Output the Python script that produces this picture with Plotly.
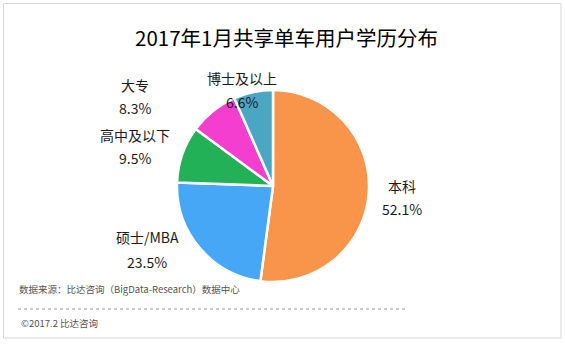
import plotly.graph_objects as go

# Education breakdown of bike-sharing users, January 2017
categories = ["本科", "硕士/MBA", "高中及以下", "大专", "博士及以上"]
shares = [52.1, 23.5, 9.5, 8.3, 6.6]
colors = ["#F8954B", "#46A7F6", "#22B157", "#F43ECF", "#4AA7C4"]

W, H = 565, 345
FONT = "Noto Sans CJK SC"

# pie placement in pixels (center and radius)
cx, cy, r = 273, 186, 96

fig = go.Figure(go.Pie(
    labels=categories,
    values=shares,
    sort=False,
    direction="clockwise",
    rotation=0,
    marker=dict(colors=colors, line=dict(color="white", width=2.5)),
    textinfo="none",
    hoverinfo="label+percent",
    showlegend=False,
    domain=dict(x=[(cx - r) / W, (cx + r) / W],
                y=[(H - cy - r) / H, (H - cy + r) / H]),
))

# label positions in pixels: (x, name line y, value line y)
label_pos = {
    "本科": (402, 186, 209),
    "硕士/MBA": (147, 237, 262),
    "高中及以下": (135, 135, 158),
    "大专": (135, 85, 108),
    "博士及以上": (242, 78, 102),
}

annotations = []
for name, val in zip(categories, shares):
    x, y1, y2 = label_pos[name]
    for txt, y in ((name, y1), (f"{val}%", y2)):
        annotations.append(dict(
            x=x / W, y=1 - y / H, xref="paper", yref="paper",
            text=txt, showarrow=False,
            font=dict(family=FONT, size=14, color="#1a1a1a"),
            xanchor="center", yanchor="middle",
        ))

annotations += [
    dict(x=286 / W, y=1 - 37 / H, xref="paper", yref="paper",
         text="2017年1月共享单车用户学历分布", showarrow=False,
         font=dict(family=FONT, size=20.5, color="#000000"),
         xanchor="center", yanchor="middle"),
    dict(x=17 / W, y=1 - 289 / H, xref="paper", yref="paper",
         text="数据来源：比达咨询（BigData-Research）数据中心", showarrow=False,
         font=dict(family=FONT, size=9.5, color="#555555"),
         xanchor="left", yanchor="middle"),
    dict(x=19 / W, y=1 - 323 / H, xref="paper", yref="paper",
         text="©2017.2 比达咨询", showarrow=False,
         font=dict(family=FONT, size=9.5, color="#555555"),
         xanchor="left", yanchor="middle"),
]

shapes = [
    dict(type="rect", xref="paper", yref="paper",
         x0=3.5 / W, x1=561 / W, y0=1 - 338 / H, y1=1 - 3.5 / H,
         line=dict(color="#d6d6d6", width=1), fillcolor="rgba(0,0,0,0)"),
    dict(type="line", xref="paper", yref="paper",
         x0=18 / W, x1=406 / W, y0=1 - 309 / H, y1=1 - 309 / H,
         line=dict(color="#9a9a9a", width=1, dash="dot")),
]

fig.update_layout(
    width=W, height=H,
    margin=dict(l=0, r=0, t=0, b=0),
    paper_bgcolor="white", plot_bgcolor="white",
    annotations=annotations, shapes=shapes,
)

fig.write_html("out.html")
